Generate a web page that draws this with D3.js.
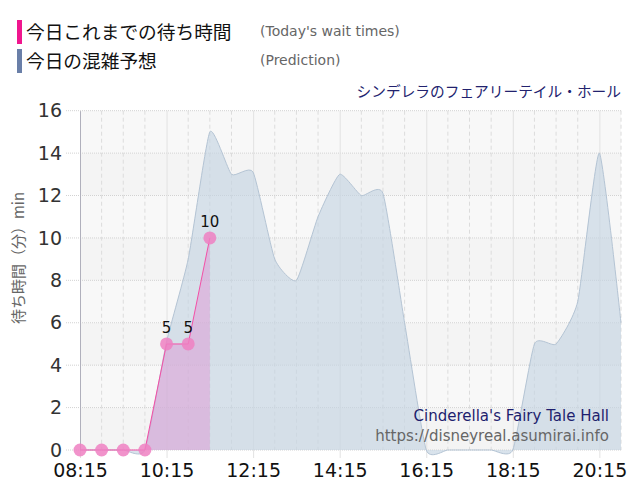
<!DOCTYPE html>
<html>
<head>
<meta charset="utf-8">
<script src="https://cdn.jsdelivr.net/npm/d3@7"></script>
<style>
  body { margin: 0; background: #fff; }
  svg { display: block; font-family: "DejaVu Sans", Verdana, sans-serif; }
</style>
</head>
<body>
<svg id="chart" width="640" height="500"></svg>
<script>
// wait times chart (today's actual + prediction)

const WIDTH = 640;
const HEIGHT = 500;
const margin = { top: 110.7, right: 19, bottom: 50, left: 80 };

// data
const actualTimes = ["08:15", "08:45", "09:15", "09:45", "10:15", "10:45", "11:15"];
const actualWaits = [0, 0, 0, 0, 5, 5, 10];

const predTimes = ["08:15", "08:45", "09:15", "09:45", "10:15", "10:45", "11:15", "11:45",
	"12:15", "12:45", "13:15", "13:45", "14:15", "14:45", "15:15", "15:45", "16:15", "16:45",
	"17:15", "17:45", "18:15", "18:45", "19:15", "19:45", "20:15", "20:45"];
const predWaits = [0, 0, 0, 0, 5.1, 9, 15, 13, 13.1, 9, 8, 11, 13, 12, 12.1, 6, 0, 0,
	0, 0, 0, 5, 5, 7, 14, 6];

const xTickLabels = ["08:15", "10:15", "12:15", "14:15", "16:15", "18:15", "20:15"];
const yTicks = [0, 2, 4, 6, 8, 10, 12, 14, 16];

const legendLabels = ["今日これまでの待ち時間", "今日の混雑予想"];
const legendNotes = ["(Today's wait times)", "(Prediction)"];
const titleText = "シンデレラのフェアリーテイル・ホール";
const yLabel = "待ち時間（分）min";
const creditName = "Cinderella's Fairy Tale Hall";
const creditUrl = "https://disneyreal.asumirai.info";

const parseTime = d3.timeParse("%H:%M");

// scales
const xScale = d3.scaleTime()
	.domain([parseTime("08:15"), parseTime("20:45")])
	.range([margin.left, WIDTH - margin.right]);

const yScale = d3.scaleLinear()
	.domain([0, 16])
	.range([HEIGHT - margin.bottom, margin.top]);

const actual = actualTimes.map((t, i) => ({ t: parseTime(t), v: actualWaits[i] }));
const pred = predTimes.map((t, i) => ({ t: parseTime(t), v: predWaits[i] }));

const svg = d3.select("#chart");

// plot background bands
const plotW = xScale.range()[1] - xScale.range()[0];
svg.append("g")
	.selectAll("rect")
	.data(yTicks.slice(0, -1))
	.join("rect")
		.attr("x", margin.left)
		.attr("width", plotW)
		.attr("y", d => yScale(d + 2))
		.attr("height", d => yScale(d) - yScale(d + 2))
		.attr("fill", d => (d / 2) % 2 === 0 ? "#f4f4f4" : "#f8f8f8");

// vertical grid every 30 min
svg.append("g")
	.selectAll("line")
	.data(pred.filter(d => !xTickLabels.includes(d3.timeFormat("%H:%M")(d.t))))
	.join("line")
		.attr("x1", d => xScale(d.t))
		.attr("x2", d => xScale(d.t))
		.attr("y1", yScale(16))
		.attr("y2", yScale(0))
		.attr("stroke", "#dcdcdc")
		.attr("stroke-dasharray", "4,3");

// horizontal grid
svg.append("g")
	.selectAll("line")
	.data(yTicks)
	.join("line")
		.attr("x1", margin.left - 14)
		.attr("x2", WIDTH - margin.right)
		.attr("y1", d => yScale(d))
		.attr("y2", d => yScale(d))
		.attr("stroke", "#d2d2d2")
		.attr("stroke-dasharray", "1,1");

// x axis
const xAxis = d3.axisBottom(xScale)
	.tickValues(xTickLabels.map(parseTime))
	.tickFormat(d3.timeFormat("%H:%M"))
	.tickSize(HEIGHT - margin.bottom - margin.top + 8)
	.tickPadding(6);

svg.append("g")
	.attr("transform", `translate(0,${margin.top})`)
	.call(xAxis)
	.call(g => g.select(".domain").remove())
	.call(g => g.selectAll(".tick line").attr("stroke", "#e2e2e2"))
	.call(g => g.selectAll(".tick text")
		.attr("fill", "#111")
		.style("font-size", "19px")
		.style("font-family", "'DejaVu Sans', sans-serif"));

// y axis
const yAxis = d3.axisLeft(yScale)
	.tickValues(yTicks)
	.tickSize(0)
	.tickPadding(18);

svg.append("g")
	.attr("transform", `translate(${margin.left},0)`)
	.call(yAxis)
	.call(g => g.select(".domain").attr("stroke", "#b0b0bc"))
	.call(g => g.selectAll(".tick text")
		.attr("fill", "#333")
		.style("font-size", "19px")
		.style("font-family", "'DejaVu Sans', sans-serif"));

// prediction area
const predCurve = d3.curveCardinal.tension(0.5);

const predArea = d3.area()
	.x(d => xScale(d.t))
	.y0(yScale(0))
	.y1(d => yScale(d.v))
	.curve(predCurve);

const predLine = d3.line()
	.x(d => xScale(d.t))
	.y(d => yScale(d.v))
	.curve(predCurve);

svg.append("path")
	.datum(pred)
	.attr("d", predArea)
	.attr("fill", "#c4d4e2")
	.attr("fill-opacity", 0.65);

svg.append("path")
	.datum(pred)
	.attr("d", predLine)
	.attr("fill", "none")
	.attr("stroke", "#b4c4d4")
	.attr("stroke-width", 1);

// today's actual
const actArea = d3.area()
	.x(d => xScale(d.t))
	.y0(yScale(0))
	.y1(d => yScale(d.v));

const actLine = d3.line()
	.x(d => xScale(d.t))
	.y(d => yScale(d.v));

svg.append("path")
	.datum(actual)
	.attr("d", actArea)
	.attr("fill", "#e08ad0")
	.attr("fill-opacity", 0.42);

svg.append("path")
	.datum(actual)
	.attr("d", actLine)
	.attr("fill", "none")
	.attr("stroke", "#f34fa6")
	.attr("stroke-width", 1);

svg.append("g")
	.selectAll("circle")
	.data(actual)
	.join("circle")
		.attr("cx", d => xScale(d.t))
		.attr("cy", d => yScale(d.v))
		.attr("r", 6.5)
		.attr("fill", "#ee80c2")
		.attr("fill-opacity", 0.85);

svg.append("g")
	.selectAll("text")
	.data(actual.filter(d => d.v > 0))
	.join("text")
		.attr("x", d => xScale(d.t))
		.attr("y", d => yScale(d.v) - 11)
		.attr("text-anchor", "middle")
		.attr("fill", "#111")
		.style("font-size", "15px")
		.text(d => d.v);

// legend
const legendColors = ["#f0168e", "#6a7fa8"];
const legend = svg.append("g");
legendLabels.forEach((label, i) => {
	const y = 20 + i * 29;
	legend.append("rect")
		.attr("x", 17).attr("y", y)
		.attr("width", 5).attr("height", 24)
		.attr("fill", legendColors[i]);
	legend.append("text")
		.attr("x", 26).attr("y", y + 19)
		.attr("fill", "#111")
		.style("font-family", "'Noto Sans CJK JP', sans-serif")
		.style("font-size", "18.7px")
		.text(label);
	legend.append("text")
		.attr("x", 260).attr("y", y + 16)
		.attr("fill", "#666")
		.style("font-size", "14px")
		.text(legendNotes[i]);
});

// title
svg.append("text")
	.attr("x", 621).attr("y", 97)
	.attr("text-anchor", "end")
	.attr("fill", "#22226e")
	.style("font-family", "'Noto Sans CJK JP', sans-serif")
	.style("font-size", "14.7px")
	.text(titleText);

// y label
svg.append("text")
	.attr("transform", "translate(24,258) rotate(-90)")
	.attr("text-anchor", "middle")
	.attr("fill", "#666")
	.style("font-family", "'Noto Sans CJK JP', sans-serif")
	.style("font-size", "15px")
	.text(yLabel);

// credits
svg.append("text")
	.attr("x", 609).attr("y", 421)
	.attr("text-anchor", "end")
	.attr("fill", "#1e1e6e")
	.style("font-size", "15px")
	.text(creditName);

svg.append("text")
	.attr("x", 609).attr("y", 441)
	.attr("text-anchor", "end")
	.attr("fill", "#666")
	.style("font-size", "15px")
	.text(creditUrl);
</script>
</body>
</html>
